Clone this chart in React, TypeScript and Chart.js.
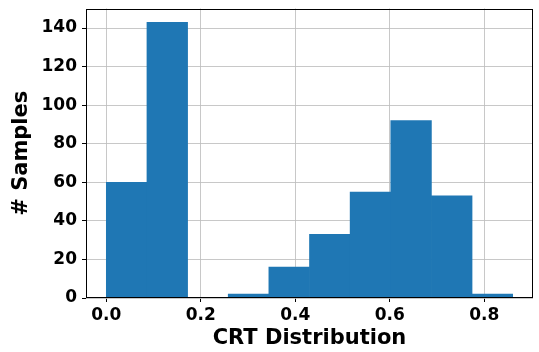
import React, { useEffect, useRef } from 'react';
import { Chart, registerables } from 'chart.js';

Chart.register(...registerables);

const binCenters = [0.043, 0.129, 0.215, 0.301, 0.387, 0.473, 0.559, 0.645, 0.731, 0.817];
const counts = [60, 143, 0, 2, 16, 33, 55, 92, 53, 2];
const xTicks = [0, 0.2, 0.4, 0.6, 0.8];
const yTicks = [0, 20, 40, 60, 80, 100, 120, 140];
const xLabel = 'CRT Distribution';
const yLabel = '# Samples';

const FONT = "'DejaVu Sans', 'Liberation Sans', sans-serif";
const GRID = 'rgba(190,190,190,0.85)';

const framePlugin = {
  id: 'frame',
  afterDraw(chart: any) {
    const { ctx, chartArea } = chart;
    const l = Math.round(chartArea.left) + 0.5;
    const t = Math.round(chartArea.top) + 0.5;
    const r = Math.round(chartArea.right) - 0.5;
    const b = Math.round(chartArea.bottom) - 0.5;
    ctx.save();
    ctx.strokeStyle = '#000';
    ctx.lineWidth = 1;
    ctx.strokeRect(l, t, r - l, b - t);
    ctx.restore();
  },
};

export default function App() {
  const ref = useRef<HTMLCanvasElement | null>(null);
  useEffect(() => {
    if (!ref.current) return;
    const chart = new Chart(ref.current, {
      type: 'bar',
      data: {
        datasets: [
          {
            data: binCenters.map((x, i) => ({ x, y: counts[i] })),
            backgroundColor: '#1f77b4',
            borderWidth: 0,
            barPercentage: 1,
            categoryPercentage: 1,
            grouped: false,
          } as any,
        ],
      },
      options: {
        responsive: false,
        animation: false,
        layout: { padding: { top: 8.5, right: 6, left: 0, bottom: 0 } },
        plugins: { legend: { display: false }, tooltip: { enabled: false } },
        scales: {
          x: {
            type: 'linear',
            min: -0.043,
            max: 0.903,
            offset: false,
            z: 1,
            afterBuildTicks: (s: any) => {
              s.ticks = xTicks.map((v) => ({ value: v }));
            },
            afterFit: (s: any) => {
              s.height = 54;
              s.paddingLeft = 0;
              s.paddingRight = 0;
            },
            grid: {
              offset: false,
              color: GRID,
              lineWidth: 1,
              drawTicks: true,
              tickLength: 4,
              tickColor: '#000',
            },
            border: { display: false },
            ticks: {
              color: '#000',
              padding: 3,
              maxRotation: 0,
              font: { family: FONT, size: 17, weight: 'bold' },
              callback: (v: any) => Number(v).toFixed(1),
            },
            title: {
              display: true,
              text: xLabel,
              color: '#000',
              padding: { top: 0, bottom: 1 },
              font: { family: FONT, size: 21, weight: 'bold' },
            },
          },
          y: {
            type: 'linear',
            min: 0,
            max: 150.15,
            z: 1,
            afterBuildTicks: (s: any) => {
              s.ticks = yTicks.map((v) => ({ value: v }));
            },
            afterFit: (s: any) => {
              s.width = 86;
              s.paddingTop = 0;
              s.paddingBottom = 0;
            },
            grid: {
              color: GRID,
              lineWidth: 1,
              drawTicks: true,
              tickLength: 4,
              tickColor: '#000',
            },
            border: { display: false },
            ticks: {
              color: '#000',
              padding: 5,
              font: { family: FONT, size: 17, weight: 'bold' },
              callback: (v: any) => String(v),
            },
            title: {
              display: true,
              text: yLabel,
              color: '#000',
              padding: { top: 9, bottom: 0 },
              font: { family: FONT, size: 21, weight: 'bold' },
            },
          },
        },
      } as any,
      plugins: [framePlugin],
    });
    return () => chart.destroy();
  }, []);
  return (
    <div style={{ position: 'absolute', left: 0, top: 0, width: 539, height: 352, background: '#fff' }}>
      <canvas ref={ref} width={539} height={352} style={{ display: 'block' }} />
    </div>
  );
}
